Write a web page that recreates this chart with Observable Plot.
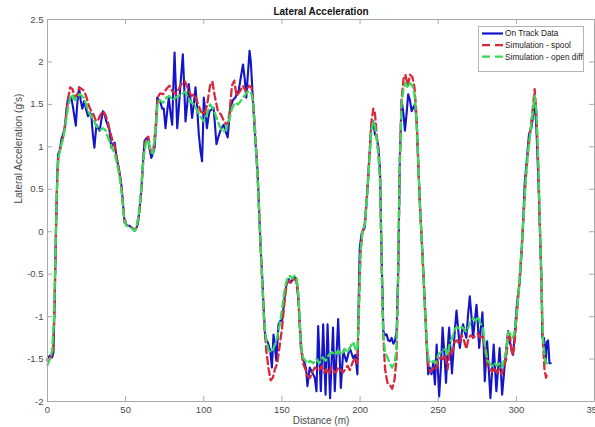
<!DOCTYPE html>
<html><head><meta charset="utf-8">
<script src="https://cdn.jsdelivr.net/npm/d3@7"></script>
<script src="https://cdn.jsdelivr.net/npm/@observablehq/plot@0.6"></script>
<style>
html,body{margin:0;padding:0;background:#fff;}
#wrap{position:relative;width:595px;height:427px;font-family:"Liberation Sans",Arial,sans-serif;overflow:hidden;}
</style></head><body><div id="wrap"></div>
<script>
const title = "Lateral Acceleration";
const xLabel = "Distance (m)";
const yLabel = "Lateral Acceleration (g's)";
const xTicks = [0, 50, 100, 150, 200, 250, 300, 350];
const yTicks = [-2, -1.5, -1, -0.5, 0, 0.5, 1, 1.5, 2, 2.5];
const seriesNames = ["On Track Data", "Simulation - spool", "Simulation - open diff"];
const seriesColors = ["#1414c8", "#d8293b", "#3bd95a"];

const trackX = [0,1.5,3,3.8,4.6,5.4,6.2,6.8,8,8.9,10,11.2,12.2,13.2,14.2,15.2,16.2,17.2,18.1,19,20.2,21.2,22.3,23.5,24.6,25.9,27,28,29,30,31.3,32.4,33.4,34.5,35.5,36.6,37.6,38.7,39.7,40.8,42,43,44,45.1,46.2,47.2,48.2,49.3,50.5,51.5,52.5,53.5,54.6,55.7,56.8,57.8,59,60,61,62.1,63.2,64.2,65.3,66.4,67.5,68.5,69.5,70.2,71.2,72.3,73.4,74.4,75.5,76.6,77.6,78.7,79.8,80.5,81.3,82.2,83,84,85.1,86.6,87.5,88.3,89.4,90.4,91.5,92.5,93.6,94.7,95.8,96.8,97.9,98.9,99.5,100,101,102,103,103.7,105,106.3,107.2,108.1,109.4,110.6,111.7,112.7,114,115.3,116.2,117,118.6,120.2,121.3,122.3,123.7,125.1,126.2,127.2,128.2,129.3,130.1,130.8,131.9,133,134.4,135.5,136.4,137.2,138.3,139.3,140.9,142.5,143.6,144.6,145.5,146.4,147.8,149,150,151,152.1,153.6,154.5,155.3,156.4,157.4,158.5,159.5,160.4,161.5,162.5,163.6,164.7,165.5,166.3,167.8,169,170,171,172.1,173.2,174.9,176.4,177.9,179.2,180.8,182.7,183.8,186,187.7,189.2,191.3,193.4,195.6,197,198.3,199,199.8,201,203,204,205.1,206.2,207.2,208.5,209.5,210.6,211.7,212.8,213.8,214.9,216,217,218,219.2,220.2,221.3,222.4,223.4,224.4,225.5,226.6,227.7,228.7,229.8,230.8,231.9,233,234,235.1,236.2,237.2,238.3,239.9,241.5,242.6,243.6,244.6,245.7,246.8,247.9,249,250.6,251.7,252.8,254,255,256,257,258.8,260.6,261.7,262.8,263.8,265,265.9,267,268,269,270.2,271.3,272.3,273.4,274.5,275.4,276.2,277.2,278.3,279,279.8,281.3,283.4,285.5,287.2,289.3,290.9,292.8,294.7,295.8,297,297.9,299,300,301,302.1,303.2,304.2,305.3,306.8,308.1,309.6,310.6,311.7,312.8,313.6,314.4,315.2,316,316.6,317.7,318.8,319.5,320.3,321.2,322];
const trackY = [-1.5,-1.46,-1.48,-1.42,-0.8,0,0.65,0.91,0.97,1.09,1.15,1.22,1.45,1.58,1.55,1.58,1.48,1.36,1.25,1.5,1.7,1.55,1.45,1.54,1.45,1.36,1.4,1.38,1.15,0.99,1.26,1.22,1.19,1.32,1.42,1.38,1.3,1.25,1.19,0.99,1.04,1.05,0.9,0.79,0.68,0.56,0.35,0.11,0.08,0.07,0.07,0.05,0.04,0.01,0.04,0.09,0.28,0.48,0.78,1.07,1.1,1.11,0.98,0.87,0.92,0.99,1.25,1.58,1.55,1.52,1.45,1.45,1.22,1.42,1.58,1.4,1.26,1.7,2.11,1.65,1.22,1.45,1.74,2.09,1.7,1.3,1.5,1.74,1.55,1.34,1.5,1.7,1.45,1.15,0.95,0.83,1.2,1.58,1.42,1.22,1.35,1.42,1.44,1.46,1.25,1.03,1.12,1.19,1.23,1.26,1.18,1.11,1.3,1.46,1.55,1.58,1.63,1.66,1.82,1.97,1.8,1.58,1.85,2.13,2,1.77,1.4,1.07,0.71,0.2,-0.2,-0.46,-0.9,-1.25,-1.3,-1.4,-1.6,-1.21,-1.35,-1.52,-1.09,-1.05,-1.05,-0.9,-0.7,-0.56,-0.56,-0.6,-0.58,-0.54,-0.54,-0.56,-0.74,-1.1,-1.4,-1.5,-1.56,-1.62,-1.82,-1.6,-1.65,-1.68,-1.72,-1.88,-1.11,-1.88,-1.09,-1.92,-1.09,-1.96,-1.13,-1.88,-1.03,-1.84,-1.41,-1.53,-1.37,-1.49,-1.45,-1.68,-0.9,-0.19,-0.02,0.05,0.3,0.6,0.95,1.26,1.3,1.15,1.11,1,0.71,-0.3,-1.17,-1.22,-1.21,-1.28,-1.29,-1.25,-1.32,-1.28,-1.17,-0.46,0.91,1.54,1.4,1.19,1.4,1.62,1.55,1.42,1.46,1.5,1.3,0.8,0.32,-0.25,-0.86,-1.3,-1.68,-1.6,-1.68,-1.55,-1.8,-1.33,-1.94,-1.6,-1.13,-1.45,-1.78,-1.4,-1.13,-1.67,-1.17,-0.93,-1.15,-1.37,-1.2,-1.09,-1.18,-1.25,-1,-0.76,-1,-1.25,-1.05,-0.86,-1.1,-1.37,-1.15,-0.95,-1.3,-1.76,-1.29,-1.96,-1.33,-1.88,-1.37,-1.92,-1.52,-1.17,-1.29,-1.4,-1.45,-1.2,-0.93,-0.75,-0.6,-0.3,0.05,0.56,0.87,1.15,1.22,1.35,1.58,1.22,0.85,0.44,-0.05,-0.5,-1.25,-1.25,-1.52,-1.3,-1.28,-1.55,-1.55];

const spoolX = [0,2,3.5,4.5,5.3,6.2,7,8.5,10,11.5,13,14.5,16,17.5,19,20.5,22,23.5,25,26.5,28,29.5,31,32.5,34,35.5,37,38.5,40,41.5,43,44.5,46,47.5,49,50.5,52,54,55.7,57,58.5,60,61.5,63,64.5,66,67.5,69,70.5,72,74,76,78,80,82,84,86,88,90,92,94,96,98,100,102,104,105.5,107,109,111,113,115,116.5,118,119.5,121,123,125,127,129,130.5,132,133.3,134.6,136,137.3,138.6,140,141.5,142.8,144.2,145.5,147,148.5,150,151.5,153,154.5,156,157.5,159,160.5,162,163.5,165,166.5,168,169.5,171,172.5,174,175.5,177,178.5,180,181.5,183,184.5,186,187.5,189,190.5,192,193.5,195,197,198.3,199.3,200.3,201.5,203,204.5,206,207.3,208.5,209.5,210.6,211.8,212.8,213.8,214.8,216,217.5,219,220.5,222,223.3,224.3,225.3,226.5,227.8,229,230.5,232,233.5,234.8,236,237.2,238.3,240,241.5,242.8,244,245.5,247,248.5,250,251.5,253,254.5,256,257.5,259,260.5,262,263.5,265,266.5,268,269.5,271,272.5,274,275.5,277,278.5,280,281.5,283,284.5,286,287.5,289,290.5,292,293.5,294.8,296,297.3,298.5,300,301.5,303,304.5,306,307.5,309,310.5,311.7,312.8,314,315,316,317,318,319,320];
const spoolY = [-1.52,-1.48,-1.42,-0.9,-0.1,0.6,0.9,1,1.12,1.3,1.55,1.7,1.68,1.58,1.62,1.7,1.68,1.66,1.58,1.48,1.42,1.38,1.3,1.32,1.38,1.42,1.38,1.3,1.18,1.08,1,0.85,0.7,0.5,0.18,0.08,0.06,0.05,0.02,0.05,0.2,0.5,0.9,1.1,1.12,0.95,0.92,1.2,1.58,1.63,1.62,1.68,1.72,1.65,1.62,1.68,1.75,1.77,1.68,1.6,1.62,1.52,1.42,1.38,1.48,1.72,1.77,1.6,1.42,1.38,1.3,1.25,1.4,1.72,1.78,1.6,1.65,1.72,1.65,1.72,1.7,1.45,1.05,0.6,0,-0.55,-1.05,-1.4,-1.62,-1.75,-1.72,-1.62,-1.55,-1.35,-1.15,-0.85,-0.62,-0.58,-0.6,-0.56,-0.56,-0.8,-1.35,-1.55,-1.62,-1.7,-1.72,-1.65,-1.6,-1.62,-1.63,-1.58,-1.66,-1.62,-1.68,-1.6,-1.64,-1.66,-1.6,-1.62,-1.66,-1.62,-1.58,-1.63,-1.55,-1.48,-1.55,-0.9,-0.25,0,0.1,0.45,0.9,1.3,1.45,1.4,1.15,0.9,0.6,-0.4,-1.2,-1.62,-1.78,-1.8,-1.85,-1.75,-1.5,-0.6,0.7,1.55,1.8,1.85,1.72,1.85,1.82,1.7,1.4,0.85,0.3,-0.3,-0.9,-1.4,-1.62,-1.65,-1.6,-1.62,-1.52,-1.48,-1.5,-1.45,-1.62,-1.4,-1.42,-1.3,-1.28,-1.32,-1.22,-1.28,-1.38,-1.25,-1.22,-1.25,-1.22,-1.2,-1.25,-1.22,-1.4,-1.58,-1.62,-1.65,-1.6,-1.66,-1.62,-1.68,-1.6,-1.5,-1.2,-1.25,-1.45,-1.38,-1.05,-0.7,-0.3,0.15,0.62,0.95,1.2,1.45,1.68,1.4,0.8,0.1,-0.6,-1.3,-1.62,-1.72,-1.65];

const openX = [0,1.5,3,4.2,5,5.8,6.8,8.5,10,11.5,13,14.5,16,17.5,19,20.5,22,23.5,25,26.5,28,29.5,31,32.5,34,35.5,37,38.5,40,41.5,43,44.5,46,47.5,49,50.5,52,54,55.7,57,58.5,60,61.5,63,64.5,66,67.5,69,70.5,72,74,76,78,80,82,84,86,88,90,92,94,96,98,100,102,104,106,108,110,112,114,116,118,120,122,124,126,128,130,131.5,133,134.5,136,137.3,138.6,140,141.5,143,144.5,146,147.5,149,150.5,152,153.5,155,156.5,158,159.5,160.8,162,163.5,165,166.5,168,170,172,174,176,178,180,182,184,186,188,190,192,194,195.6,197,198.3,199.3,200.3,201.5,203,204.5,206,207.3,208.5,209.5,210.6,211.8,212.8,213.8,214.8,216,217.5,219,220.5,222,223.3,224.3,225.3,226.5,227.8,229,230.5,232,233.5,234.8,236,237.2,238.3,240,241.5,242.8,244,245.5,247,248.5,250,251.5,253,254.5,256,257.5,259,260.5,262,263.5,265,266.5,268,269.5,271,272.5,274,275.5,277,278.5,280,281.5,283,284.5,286,287.5,289,290.5,292,293.5,294.8,296,297.3,298.5,300,301.5,303,304.5,306,307.5,309,310.5,311.7,312.8,314,315,316,317,318,319,320];
const openY = [-1.57,-1.5,-1.4,-1,-0.3,0.35,0.85,1,1.1,1.25,1.45,1.58,1.62,1.55,1.58,1.62,1.6,1.57,1.48,1.4,1.36,1.32,1.25,1.22,1.2,1.22,1.2,1.12,1.05,0.98,0.92,0.8,0.66,0.45,0.15,0.07,0.06,0.04,0.01,0.05,0.22,0.52,0.88,1.05,1.08,0.95,0.92,1.15,1.52,1.55,1.52,1.58,1.6,1.55,1.58,1.6,1.62,1.65,1.58,1.52,1.5,1.42,1.35,1.3,1.38,1.5,1.45,1.35,1.25,1.18,1.2,1.3,1.45,1.52,1.5,1.55,1.6,1.65,1.65,1.55,1.1,0.6,0,-0.55,-1.05,-1.28,-1.4,-1.42,-1.38,-1.3,-1.2,-1.05,-0.85,-0.65,-0.55,-0.52,-0.55,-0.52,-0.55,-0.8,-1.3,-1.48,-1.52,-1.55,-1.52,-1.55,-1.5,-1.55,-1.48,-1.52,-1.45,-1.42,-1.45,-1.4,-1.45,-1.38,-1.42,-1.35,-1.3,-1.38,-1.4,-0.85,-0.22,0,0.08,0.4,0.85,1.2,1.3,1.25,1.1,0.9,0.6,-0.4,-1.2,-1.42,-1.48,-1.55,-1.6,-1.55,-1.4,-0.55,0.7,1.5,1.68,1.75,1.7,1.75,1.72,1.62,1.35,0.85,0.3,-0.3,-0.9,-1.35,-1.52,-1.55,-1.52,-1.55,-1.45,-1.42,-1.4,-1.38,-1.45,-1.3,-1.25,-1.15,-1.12,-1.15,-1.12,-1.15,-1.18,-1.12,-1.05,-1.02,-1.05,-1,-1.08,-1.12,-1.35,-1.52,-1.55,-1.58,-1.55,-1.58,-1.55,-1.6,-1.52,-1.4,-1.18,-1.2,-1.25,-1.22,-1,-0.7,-0.3,0.15,0.62,0.95,1.18,1.4,1.6,1.42,0.85,0.15,-0.55,-1.25,-1.45,-1.55,-1.55];

const toRows = (xs, ys) => xs.map((x, i) => ({x, y: ys[i]}));
const track = toRows(trackX, trackY);
const spool = toRows(spoolX, spoolY);
const open = toRows(openX, openY);

const W = 595, H = 427, mL = 47, mR = 1, mT = 19, mB = 26;
const fw = W - mL - mR, fh = H - mT - mB, tk = 5;
const axisColor = "#a9a9a9", textColor = "#4a4a4a";
const fmt = d => String(d);

const chart = Plot.plot({
  width: W, height: H,
  marginLeft: mL, marginRight: mR, marginTop: mT, marginBottom: mB,
  style: {fontFamily: "'Liberation Sans', Arial, sans-serif", color: textColor, background: "#fff"},
  x: {domain: [0, 350]},
  y: {domain: [-2, 2.5]},
  marks: [
    Plot.line(track, {x: "x", y: "y", stroke: seriesColors[0], strokeWidth: 2.1}),
    Plot.line(spool, {x: "x", y: "y", stroke: seriesColors[1], strokeWidth: 2.3, strokeDasharray: "7,4"}),
    Plot.line(open, {x: "x", y: "y", stroke: seriesColors[2], strokeWidth: 2.3, strokeDasharray: "7,4"}),
    Plot.frame({stroke: axisColor, strokeWidth: 1}),
    Plot.tickX(xTicks, {x: d => d, stroke: axisColor, insetTop: fh - tk}),
    Plot.tickX(xTicks, {x: d => d, stroke: axisColor, insetBottom: fh - tk}),
    Plot.tickY(yTicks, {y: d => d, stroke: axisColor, insetRight: fw - tk}),
    Plot.tickY(yTicks, {y: d => d, stroke: axisColor, insetLeft: fw - tk}),
    Plot.axisX({ticks: xTicks, tickSize: 0, tickPadding: 5, tickFormat: fmt, fontSize: 9.5, label: null}),
    Plot.axisY({ticks: yTicks, tickSize: 0, tickPadding: 4, tickFormat: fmt, fontSize: 9.5, label: null}),
    Plot.text([title], {text: d => d, frameAnchor: "top", lineAnchor: "middle", dy: -8, fontWeight: "bold", fontSize: 10, fill: "#111"}),
    Plot.text([xLabel], {text: d => d, frameAnchor: "bottom", lineAnchor: "middle", dy: 19.5, fontSize: 10, fill: textColor}),
    Plot.text([yLabel], {text: d => d, frameAnchor: "left", lineAnchor: "middle", rotate: -90, dx: -29, dy: -7, fontSize: 10, fill: textColor})
  ]
});
const wrap = document.getElementById("wrap");
wrap.appendChild(chart);

// legend overlay
const lg = d3.select(wrap).append("svg")
  .style("position", "absolute").style("left", "478px").style("top", "26px")
  .attr("width", 106).attr("height", 46);
lg.append("rect").attr("x", 0.5).attr("y", 0.5).attr("width", 105).attr("height", 45)
  .attr("fill", "#fff").attr("stroke", "#b5b5b5");
seriesNames.forEach((name, i) => {
  const cy = 7.5 + i * 11.6;
  lg.append("line").attr("x1", 4).attr("x2", 25).attr("y1", cy).attr("y2", cy)
    .attr("stroke", seriesColors[i]).attr("stroke-width", 2.2)
    .attr("stroke-dasharray", i === 0 ? null : "8,5");
  lg.append("text").attr("x", 27).attr("y", cy).attr("dy", "0.35em")
    .attr("font-family", "'Liberation Sans', Arial, sans-serif").attr("font-size", 8.3)
    .attr("fill", "#222").text(name);
});
</script></body></html>
